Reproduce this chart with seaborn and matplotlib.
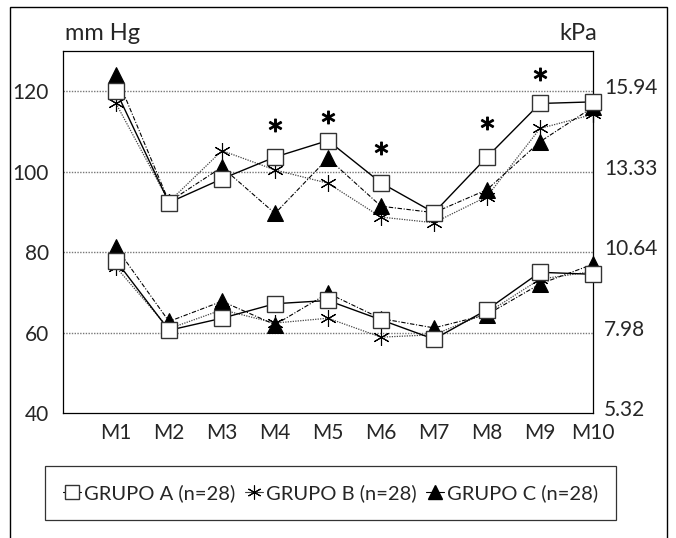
import seaborn as sns
import pandas as pd
import matplotlib.pyplot as plt
from matplotlib.patches import Rectangle
from matplotlib.lines import Line2D
import matplotlib.transforms as mtransforms

sns.set_style("white")
plt.rcParams['font.family'] = ['Lato', 'DejaVu Sans']

moments = ["M1", "M2", "M3", "M4", "M5", "M6", "M7", "M8", "M9", "M10"]

# upper curves (systolic), mm Hg
sys_a = [120.0, 92.3, 98.2, 103.6, 107.7, 97.2, 89.8, 103.6, 116.9, 117.3]
sys_b = [116.9, 92.5, 105.2, 100.4, 97.1, 88.7, 87.3, 93.8, 110.7, 114.2]
sys_c = [123.9, 92.5, 101.1, 89.6, 103.3, 91.4, 89.8, 95.5, 107.4, 116.0]

# lower curves (diastolic), mm Hg
dia_a = [77.9, 60.6, 63.6, 67.2, 68.0, 63.2, 58.4, 65.7, 75.0, 74.5]
dia_b = [76.3, 61.0, 65.7, 62.4, 63.6, 58.9, 59.5, 64.9, 73.3, 75.2]
dia_c = [81.2, 62.8, 67.8, 62.0, 69.8, 63.5, 61.2, 64.5, 72.1, 77.0]

# significance marks
sig_moments = ["M4", "M5", "M6", "M8", "M9"]
sig_values = [111.5, 113.6, 105.8, 112.1, 124.1]

mmhg_ticks = [40, 60, 80, 100, 120]
kpa_labels = ["5.32", "7.98", "10.64", "13.33", "15.94"]

group_names = ["GRUPO A (n=28)", "GRUPO B (n=28)", "GRUPO C (n=28)"]

pos = {m: i + 1 for i, m in enumerate(moments)}

styles = {
    "A": dict(color="black", lw=1.0, linestyle="-", marker="s", markersize=11,
              mfc="white", mec="#333333", mew=1.0),
    "B": dict(color="#444444", lw=0.9, linestyle=(0, (1, 1)), marker=(6, 2, 0),
              markersize=12, mec="black", mew=0.8),
    "C": dict(color="black", lw=0.8, linestyle=(0, (4, 1.5, 1, 1.5)), marker="^",
              markersize=11, mfc="black", mec="black"),
}

fig = plt.figure(figsize=(6.76, 5.38), dpi=100)
ax = fig.add_axes([63 / 676, 1 - 413.3 / 538, (593 - 63) / 676, (413.3 - 50.7) / 538])

x = [pos[m] for m in moments]
order = [("B", sys_b, dia_b), ("C", sys_c, dia_c), ("A", sys_a, dia_a)]
for key, s, d in order:
    for vals in (s, d):
        df = pd.DataFrame({"x": x, "y": vals})
        sns.lineplot(data=df, x="x", y="y", ax=ax, clip_on=False, zorder=3, **styles[key])

ax.plot([pos[m] for m in sig_moments], sig_values, linestyle="none",
        marker="$*$", markersize=9, color="black", zorder=4)

ax.set_xlim(0, 10)
ax.set_ylim(40, 130)
ax.set_xticks(x)
ax.set_xticklabels(moments, fontsize=15)
ax.set_yticks(mmhg_ticks)
ax.set_yticklabels([str(t) for t in mmhg_ticks], fontsize=15)
ax.tick_params(axis="both", length=0)
ax.tick_params(axis="x", pad=7)
ax.tick_params(axis="y", pad=10)
ax.set_xlabel("")
ax.set_ylabel("")
for yv in mmhg_ticks[1:]:
    ax.axhline(yv, color="#777777", lw=1.0, linestyle=(0, (1, 1)), zorder=1)
for sp in ax.spines.values():
    sp.set_color("black")
    sp.set_linewidth(0.9)

ax2 = ax.twinx()
ax2.set_ylim(ax.get_ylim())
ax2.set_yticks(mmhg_ticks)
ax2.set_yticklabels(kpa_labels, fontsize=15)
ax2.tick_params(axis="y", length=0, pad=8)
shift = mtransforms.ScaledTranslation(0, 5 / 100, fig.dpi_scale_trans)
for lab in ax2.get_yticklabels():
    lab.set_transform(lab.get_transform() + shift)
for sp in ax2.spines.values():
    sp.set_visible(False)

fig.text(65 / 676, 1 - 33 / 538, "mm Hg", fontsize=17, va="center", ha="left")
fig.text(597 / 676, 1 - 33 / 538, "kPa", fontsize=17, va="center", ha="right")

handles = []
for key in ["A", "B", "C"]:
    st = dict(styles[key])
    st["linestyle"] = "-"
    st["lw"] = 0.8
    st["markersize"] = 10
    handles.append(Line2D([], [], **st))
leg = fig.legend(handles, group_names, loc="center", ncol=3,
                 bbox_to_anchor=(45 / 676, 18 / 538, 571 / 676, 54 / 538),
                 mode="expand", fontsize=14.5, frameon=True, fancybox=False,
                 handlelength=0.9, handletextpad=0.15, columnspacing=0.4,
                 borderaxespad=0, borderpad=0.9)
leg.get_frame().set_edgecolor("black")
leg.get_frame().set_linewidth(0.9)

fig.patches.append(Rectangle((10 / 676, -0.1), 657 / 676, 1.1 - 7 / 538,
                             transform=fig.transFigure, fill=False,
                             edgecolor="black", lw=1.0))

fig.savefig("out.png", dpi=100)
